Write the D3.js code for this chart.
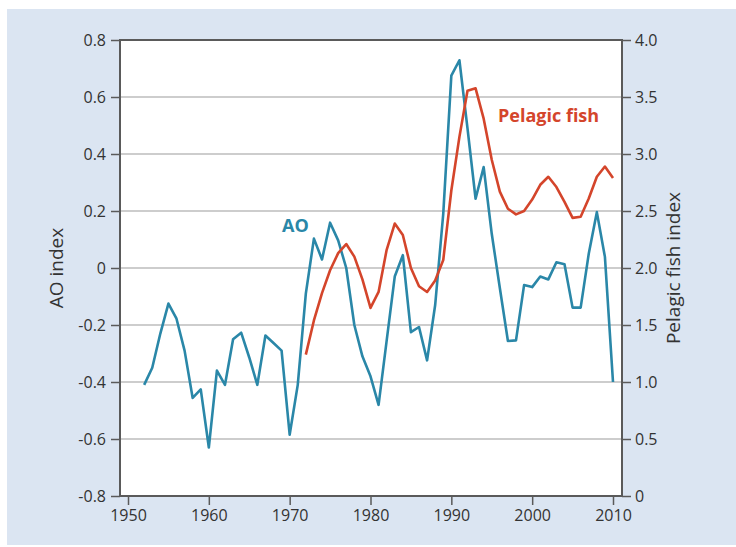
<!DOCTYPE html>
<html lang="en">
  <head>
    <meta charset="UTF-8" />
    <title>AO index and pelagic fish index</title>
    <script src="https://d3js.org/d3.v7.min.js"></script>
    <style>
      body {
        margin: 0;
        background: #ffffff;
        font-family: "Open Sans", sans-serif;
      }
      svg text {
        fill: #333333;
      }
    </style>
  </head>
  <body>
    <svg id="chart" width="736" height="547"></svg>

    <script>
      // AO index, 1952-2010
      const aoYears = d3.range(1952, 2011);
      const aoValues = [
        -0.41, -0.35, -0.23, -0.125, -0.178, -0.29, -0.456, -0.426, -0.63, -0.36,
        -0.41, -0.25, -0.227, -0.314, -0.41, -0.237, -0.263, -0.29, -0.585, -0.41,
        -0.09, 0.103, 0.03, 0.159, 0.097, 0.0, -0.2, -0.31, -0.38, -0.48,
        -0.255, -0.03, 0.045, -0.225, -0.207, -0.324, -0.13, 0.19, 0.675, 0.729,
        0.49, 0.243, 0.354, 0.12, -0.07, -0.256, -0.254, -0.06, -0.067, -0.03,
        -0.04, 0.02, 0.013, -0.139, -0.139, 0.05, 0.196, 0.039, -0.4,
      ];

      // Pelagic fish index, 1972-2010
      const fishYears = d3.range(1972, 2011);
      const fishValues = [
        1.24, 1.54, 1.78, 1.98, 2.13, 2.21, 2.1, 1.9, 1.65, 1.79,
        2.16, 2.39, 2.29, 2.0, 1.84, 1.79, 1.89, 2.07, 2.68, 3.15,
        3.555, 3.576, 3.31, 2.95, 2.67, 2.52, 2.47, 2.5, 2.6, 2.73,
        2.8, 2.71, 2.58, 2.44, 2.45, 2.61, 2.8, 2.89, 2.79,
      ];

      const xTicks = [1950, 1960, 1970, 1980, 1990, 2000, 2010];
      const aoTicks = [-0.8, -0.6, -0.4, -0.2, 0, 0.2, 0.4, 0.6, 0.8];
      const fishTicks = [0, 0.5, 1, 1.5, 2, 2.5, 3, 3.5, 4];

      const blue = "#2a87a8";
      const red = "#d4452b";

      const svg = d3.select("#chart");

      // light blue panel
      svg.append("rect")
        .attr("x", 7).attr("y", 9)
        .attr("width", 729).attr("height", 536)
        .attr("fill", "#dbe5f2");

      const plotL = 120, plotR = 622, plotT = 40, plotB = 496;

      const x = d3.scaleLinear().domain([1950, 2010]).range([128, 613]);
      const yAO = d3.scaleLinear().domain([-0.8, 0.8]).range([plotB, plotT]);
      const yFish = d3.scaleLinear().domain([0, 4]).range([plotB, plotT]);

      svg.append("rect")
        .attr("x", plotL).attr("y", plotT)
        .attr("width", plotR - plotL).attr("height", plotB - plotT)
        .attr("fill", "#ffffff");

      // grid lines
      svg.append("g")
        .selectAll("line")
        .data(aoTicks.filter((d) => Math.abs(d) < 0.79))
        .join("line")
        .attr("x1", plotL).attr("x2", plotR)
        .attr("y1", (d) => yAO(d)).attr("y2", (d) => yAO(d))
        .attr("stroke", "#bdbdbd")
        .attr("stroke-width", 1.5);

      // frame
      svg.append("rect")
        .attr("x", plotL).attr("y", plotT)
        .attr("width", plotR - plotL).attr("height", plotB - plotT)
        .attr("fill", "none")
        .attr("stroke", "#5a5a5a")
        .attr("stroke-width", 2);

      const fmt = (d) => (d === 0 ? "0" : d.toFixed(1));

      function styleAxis(g) {
        g.select(".domain").remove();
        g.selectAll(".tick line").attr("stroke", "#5a5a5a").attr("stroke-width", 1.5);
        g.selectAll(".tick text")
          .attr("fill", "#333333")
          .style("font-family", "'Open Sans', sans-serif")
          .style("font-size", "16px");
      }

      svg.append("g")
        .attr("transform", `translate(${plotL},0)`)
        .call(d3.axisLeft(yAO).tickValues(aoTicks).tickFormat(fmt).tickSize(9).tickPadding(5))
        .call(styleAxis);

      svg.append("g")
        .attr("transform", `translate(${plotR},0)`)
        .call(d3.axisRight(yFish).tickValues(fishTicks).tickFormat(fmt).tickSize(9).tickPadding(4))
        .call(styleAxis);

      svg.append("g")
        .attr("transform", `translate(0,${plotB})`)
        .call(d3.axisBottom(x).tickValues(xTicks).tickFormat(d3.format("d")).tickSize(9).tickPadding(5))
        .call(styleAxis);

      // series
      const aoLine = d3.line()
        .x((d, i) => x(aoYears[i]))
        .y((d) => yAO(d));

      const fishLine = d3.line()
        .x((d, i) => x(fishYears[i]))
        .y((d) => yFish(d));

      svg.append("path")
        .datum(aoValues)
        .attr("d", aoLine)
        .attr("fill", "none")
        .attr("stroke", blue)
        .attr("stroke-width", 2.6)
        .attr("stroke-linejoin", "round");

      svg.append("path")
        .datum(fishValues)
        .attr("d", fishLine)
        .attr("fill", "none")
        .attr("stroke", red)
        .attr("stroke-width", 2.6)
        .attr("stroke-linejoin", "round");

      // series labels
      svg.append("text")
        .attr("x", 282).attr("y", 232)
        .style("font-size", "18px")
        .style("font-weight", "bold")
        .style("fill", blue)
        .text("AO");

      svg.append("text")
        .attr("x", 498).attr("y", 122)
        .style("font-size", "18px")
        .style("font-weight", "bold")
        .style("fill", red)
        .text("Pelagic fish");

      // axis titles
      svg.append("text")
        .attr("transform", `translate(63,${(plotT + plotB) / 2}) rotate(-90)`)
        .attr("text-anchor", "middle")
        .style("font-size", "19px")
        .text("AO index");

      svg.append("text")
        .attr("transform", `translate(680,${(plotT + plotB) / 2}) rotate(-90)`)
        .attr("text-anchor", "middle")
        .style("font-size", "19px")
        .text("Pelagic fish index");
    </script>
  </body>
</html>
